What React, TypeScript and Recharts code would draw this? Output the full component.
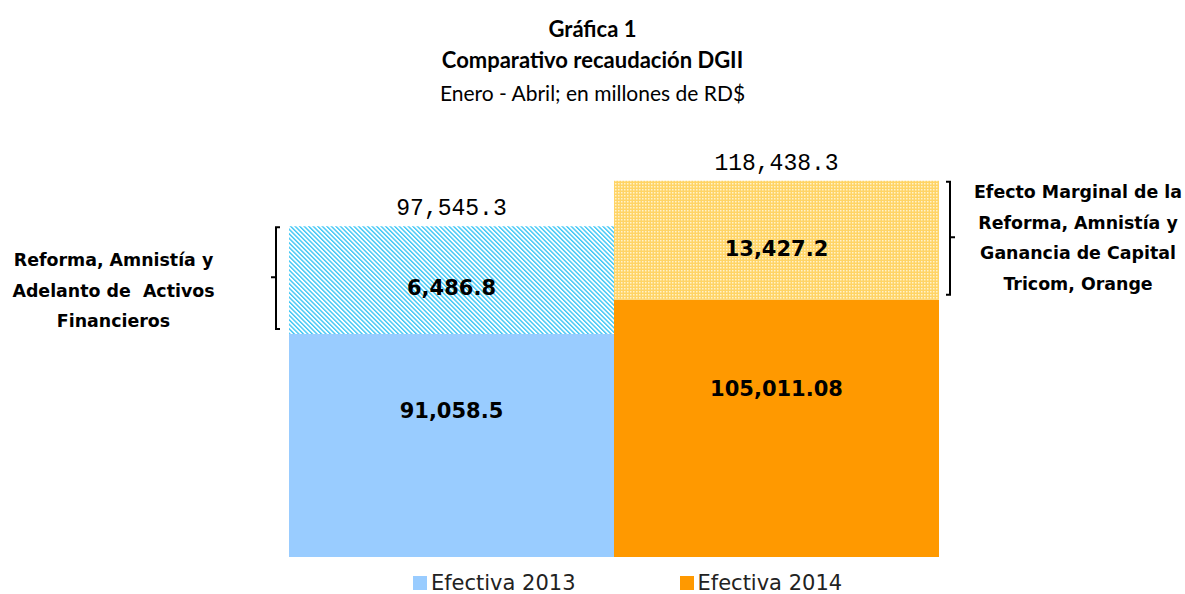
import { BarChart, Bar, XAxis, YAxis, Cell, LabelList } from "recharts";

// periods and what the labels print
const periodos = ["Efectiva 2013", "Efectiva 2014"];
const efectiva = [91058.5, 105011.08];
const adicional = [6486.8, 13427.2];
const totales = [97545.3, 118438.3];
// height the extra segment actually gets in the picture (it is not drawn to scale)
const alturaAdicional = [43900, 48600];

const baseColors = ["#99CCFF", "#FF9900"];
const patternFills = ["url(#hatch2013)", "url(#dots2014)"];

const notaIzq = ["Reforma, Amnistía y", "Adelanto de  Activos", "Financieros"];
const notaDer = ["Efecto Marginal de la", "Reforma, Amnistía y", "Ganancia de Capital", "Tricom, Orange"];

const data = periodos.map((p, i) => ({
  periodo: p,
  efectiva: efectiva[i],
  adicional: alturaAdicional[i],
}));

const fmt = (v: number, d: number) =>
  v.toLocaleString("en-US", { minimumFractionDigits: d, maximumFractionDigits: d });

const decs = (v: number) => (String(v).split(".")[1] || "").length || 1;

const boldFont = "'DejaVu Sans', sans-serif";

function BaseLabel(props: any) {
  const { x, y, width, height, index } = props;
  const v = efectiva[index];
  return (
    <text
      x={x + width / 2}
      y={y + height * 0.35}
      textAnchor="middle"
      dominantBaseline="middle"
      fontFamily={boldFont}
      fontWeight="bold"
      fontSize={21}
      fill="#000"
    >
      {fmt(v, decs(v))}
    </text>
  );
}

function TopLabel(props: any) {
  const { x, y, width, height, index } = props;
  const v = adicional[index];
  const cx = x + width / 2;
  const left = index === 0;
  const bx = left ? x - 13 : x + width + 11;
  const dir = left ? 1 : -1;
  return (
    <g>
      <text
        x={cx}
        y={y + height * 0.58}
        textAnchor="middle"
        dominantBaseline="middle"
        fontFamily={boldFont}
        fontWeight="bold"
        fontSize={21}
        fill="#000"
      >
        {fmt(v, 1)}
      </text>
      <text
        x={cx}
        y={y - 11}
        textAnchor="middle"
        fontFamily="'Liberation Mono', monospace"
        fontSize={23}
        fill="#000"
      >
        {fmt(totales[index], 1)}
      </text>
      <path
        d={`M${bx + dir * 4},${y + 1} H${bx} V${y + height - 5} H${bx + dir * 4} M${bx},${
          y + height / 2 - 3
        } H${bx - dir * 5}`}
        stroke="#000"
        strokeWidth={2}
        fill="none"
      />
    </g>
  );
}

export default function App() {
  const noteStyle = {
    position: "absolute" as const,
    fontFamily: boldFont,
    fontWeight: "bold" as const,
    fontSize: 17.4,
    lineHeight: "30.5px",
    textAlign: "center" as const,
    color: "#000",
    whiteSpace: "pre" as const,
  };
  return (
    <div style={{ position: "absolute", left: 0, top: 0, width: 1185, height: 594, background: "#fff" }}>
      <div
        style={{
          position: "absolute",
          top: 14,
          width: 1185,
          textAlign: "center",
          fontFamily: "Lato, sans-serif",
          fontSize: 22,
          lineHeight: "30.5px",
          color: "#000",
        }}
      >
        <div style={{ fontWeight: "bold" }}>Gráfica 1</div>
        <div style={{ fontWeight: "bold" }}>Comparativo recaudación DGII</div>
        <div style={{ marginTop: 3, fontSize: 21 }}>Enero - Abril; en millones de RD$</div>
      </div>

      <div style={{ ...noteStyle, left: 0, top: 245, width: 227 }}>
        {notaIzq.map((t) => (
          <div key={t}>{t}</div>
        ))}
      </div>
      <div style={{ ...noteStyle, left: 968, top: 177, width: 220 }}>
        {notaDer.map((t) => (
          <div key={t}>{t}</div>
        ))}
      </div>

      <BarChart
        width={1185}
        height={594}
        data={data}
        margin={{ top: 165, right: 246, bottom: 37, left: 289 }}
        barCategoryGap={0}
        style={{ position: "absolute", left: 0, top: 0 }}
      >
        <defs>
          <pattern
            id="hatch2013"
            width={3.2}
            height={3.2}
            patternUnits="userSpaceOnUse"
            patternTransform="rotate(-45)"
          >
            <rect width={3.2} height={3.2} fill="#ffffff" />
            <rect width={1.4} height={3.2} fill="#3CC6F5" />
          </pattern>
          <pattern id="dots2014" width={3} height={3} patternUnits="userSpaceOnUse">
            <rect width={3} height={3} fill="#FFD466" />
            <rect width={1.5} height={1.5} fill="#FFF3CC" />
          </pattern>
        </defs>
        <XAxis dataKey="periodo" hide />
        <YAxis hide domain={[0, 160000]} />
        <Bar dataKey="efectiva" stackId="a" isAnimationActive={false}>
          {data.map((d, i) => (
            <Cell key={d.periodo} fill={baseColors[i]} />
          ))}
          <LabelList dataKey="efectiva" content={<BaseLabel />} />
        </Bar>
        <Bar dataKey="adicional" stackId="a" isAnimationActive={false}>
          {data.map((d, i) => (
            <Cell key={d.periodo} fill={patternFills[i]} />
          ))}
          <LabelList dataKey="adicional" content={<TopLabel />} />
        </Bar>
      </BarChart>

      <div
        style={{
          position: "absolute",
          left: 70,
          top: 571,
          width: 1115,
          display: "flex",
          justifyContent: "center",
          gap: 104,
          fontFamily: "'DejaVu Sans', sans-serif",
          fontSize: 21,
          lineHeight: "24px",
          color: "#222",
        }}
      >
        {periodos.map((p, i) => (
          <div key={p} style={{ display: "flex", alignItems: "center" }}>
            <span
              style={{
                display: "inline-block",
                width: 14,
                height: 14,
                background: baseColors[i],
                marginRight: 4,
              }}
            />
            {p}
          </div>
        ))}
      </div>
    </div>
  );
}
